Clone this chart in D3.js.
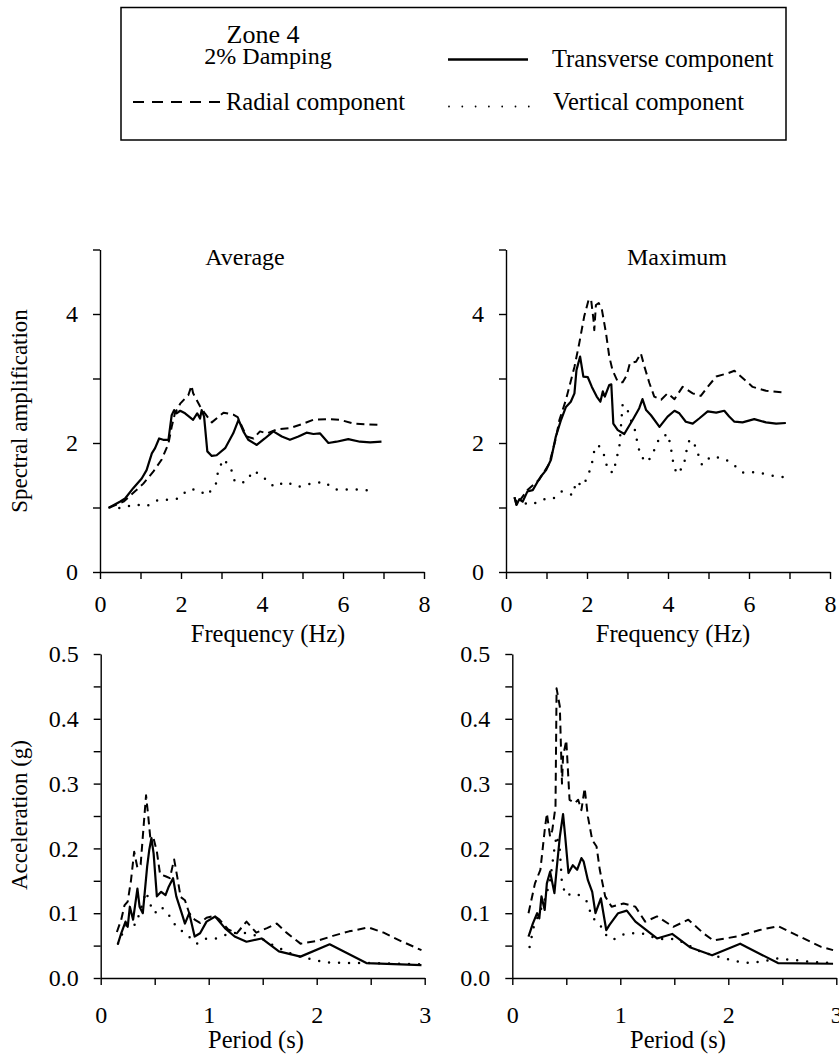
<!DOCTYPE html>
<html>
<head>
<meta charset="utf-8">
<script src="https://cdn.jsdelivr.net/npm/d3@7"></script>
<style>
  html, body { margin: 0; padding: 0; background: #fff; }
  svg { display: block; }
</style>
</head>
<body>
<svg id="chart" width="839" height="1055" style="font-family: 'Liberation Serif', serif"></svg>
<script>
// ---------- data ----------
const freqTicks = [0, 1, 2, 3, 4, 5, 6, 7, 8];
const freqTickLabels = [0, 2, 4, 6, 8];
const ampTicks = [0, 1, 2, 3, 4, 5];
const ampTickLabels = [0, 2, 4];
const periodTicks = [0, 0.5, 1, 1.5, 2, 2.5, 3];
const periodTickLabels = [0, 1, 2, 3];
const accTicks = [0, 0.05, 0.1, 0.15, 0.2, 0.25, 0.3, 0.35, 0.4, 0.45, 0.5];
const accTickLabels = [0, 0.1, 0.2, 0.3, 0.4, 0.5];

const panelTitles = ["Average", "Maximum"];
const legendItems = ["Transverse component", "Radial component", "Vertical component"];

// Average spectral amplification [frequency Hz, amplification]
const avgTransverse = [[0.23,1.0],[0.49,1.09],[0.62,1.14],[0.82,1.30],[1.03,1.45],[1.15,1.58],[1.28,1.84],[1.36,1.92],[1.46,2.07],[1.56,2.05],[1.69,2.05],[1.77,2.43],[1.83,2.51],[1.89,2.46],[1.98,2.50],[2.1,2.46],[2.3,2.36],[2.4,2.46],[2.47,2.38],[2.51,2.51],[2.57,2.41],[2.65,1.87],[2.76,1.80],[2.88,1.81],[3.09,1.92],[3.29,2.15],[3.42,2.36],[3.54,2.18],[3.66,2.05],[3.87,1.97],[4.07,2.07],[4.28,2.18],[4.49,2.10],[4.69,2.05],[4.9,2.1],[5.1,2.16],[5.27,2.14],[5.43,2.15],[5.64,2.0],[5.84,2.02],[6.13,2.06],[6.42,2.02],[6.67,2.01],[6.95,2.02]];
const avgRadial = [[0.23,1.0],[0.58,1.09],[0.9,1.27],[1.07,1.37],[1.32,1.56],[1.52,1.74],[1.69,1.99],[1.77,2.25],[1.85,2.46],[1.98,2.61],[2.1,2.69],[2.18,2.74],[2.26,2.89],[2.3,2.77],[2.47,2.57],[2.6,2.45],[2.76,2.32],[3.05,2.47],[3.29,2.44],[3.4,2.4],[3.62,2.10],[3.79,2.07],[3.95,2.18],[4.12,2.15],[4.36,2.21],[4.69,2.23],[5.02,2.30],[5.27,2.36],[5.6,2.37],[5.93,2.36],[6.26,2.30],[6.58,2.29],[6.95,2.28]];
const avgVertical = [[0.23,1.0],[0.53,0.99],[0.86,1.05],[1.15,1.02],[1.44,1.12],[1.69,1.12],[1.93,1.14],[2.18,1.28],[2.39,1.28],[2.65,1.19],[2.86,1.36],[2.92,1.58],[3.05,1.75],[3.23,1.61],[3.33,1.4],[3.58,1.39],[3.8,1.57],[4.05,1.46],[4.3,1.32],[4.58,1.4],[4.9,1.32],[5.2,1.37],[5.53,1.4],[5.8,1.28],[6.13,1.28],[6.46,1.28],[6.79,1.25]];

// Maximum spectral amplification
const maxTransverse = [[0.21,1.16],[0.26,1.04],[0.33,1.13],[0.41,1.09],[0.53,1.25],[0.66,1.27],[0.78,1.40],[0.86,1.48],[0.99,1.58],[1.11,1.74],[1.23,2.10],[1.36,2.36],[1.48,2.56],[1.6,2.64],[1.69,2.77],[1.74,3.13],[1.83,3.34],[1.91,3.03],[2.02,3.02],[2.12,2.87],[2.24,2.72],[2.33,2.64],[2.39,2.80],[2.44,2.72],[2.55,2.9],[2.6,2.91],[2.65,2.3],[2.76,2.2],[2.92,2.14],[3.13,2.36],[3.29,2.54],[3.37,2.68],[3.46,2.51],[3.58,2.43],[3.79,2.25],[3.99,2.41],[4.16,2.50],[4.28,2.46],[4.44,2.33],[4.61,2.3],[4.77,2.38],[4.98,2.49],[5.19,2.47],[5.39,2.5],[5.51,2.41],[5.64,2.33],[5.84,2.32],[6.13,2.37],[6.42,2.32],[6.67,2.30],[6.91,2.31]];
const maxRadial = [[0.21,1.16],[0.26,1.04],[0.53,1.27],[0.82,1.43],[1.07,1.68],[1.23,2.07],[1.32,2.36],[1.48,2.67],[1.69,3.18],[1.81,3.55],[1.93,3.96],[2.04,4.22],[2.1,4.23],[2.16,3.91],[2.18,3.75],[2.22,4.14],[2.29,4.17],[2.37,4.06],[2.47,3.70],[2.55,3.34],[2.63,3.13],[2.76,2.95],[2.88,2.94],[2.98,3.05],[3.06,3.24],[3.21,3.26],[3.33,3.39],[3.42,3.18],[3.54,2.93],[3.66,2.72],[3.83,2.67],[3.99,2.77],[4.16,2.68],[4.36,2.87],[4.61,2.77],[4.81,2.73],[4.98,2.87],[5.19,3.03],[5.47,3.08],[5.64,3.12],[5.8,3.03],[6.09,2.87],[6.42,2.81],[6.91,2.78]];
const maxVertical = [[0.25,1.1],[0.62,1.04],[0.95,1.13],[1.15,1.13],[1.38,1.25],[1.65,1.19],[1.73,1.40],[1.89,1.33],[2.02,1.48],[2.12,1.68],[2.18,1.88],[2.28,1.97],[2.44,1.79],[2.51,1.58],[2.65,1.54],[2.73,1.76],[2.8,1.95],[2.88,2.6],[2.98,2.55],[3.1,2.33],[3.19,2.19],[3.25,1.98],[3.33,1.79],[3.5,1.70],[3.66,1.89],[3.79,2.08],[4.0,2.14],[4.07,1.93],[4.12,1.73],[4.21,1.52],[4.39,1.64],[4.44,1.84],[4.53,2.05],[4.63,2.02],[4.84,1.66],[5.06,1.79],[5.39,1.76],[5.64,1.65],[5.86,1.54],[6.19,1.55],[6.5,1.50],[6.87,1.47]];

// Average acceleration [period s, acceleration g]
const avgAccRadial = [[0.15,0.071],[0.19,0.09],[0.22,0.112],[0.25,0.118],[0.28,0.15],[0.31,0.195],[0.34,0.17],[0.37,0.175],[0.40,0.24],[0.42,0.282],[0.44,0.25],[0.46,0.215],[0.49,0.215],[0.52,0.195],[0.55,0.16],[0.60,0.157],[0.64,0.154],[0.68,0.183],[0.71,0.155],[0.74,0.125],[0.78,0.12],[0.82,0.10],[0.87,0.09],[0.92,0.085],[0.98,0.093],[1.05,0.096],[1.1,0.09],[1.18,0.075],[1.26,0.069],[1.35,0.087],[1.44,0.07],[1.54,0.077],[1.63,0.084],[1.72,0.07],[1.85,0.053],[2.0,0.057],[2.15,0.065],[2.3,0.072],[2.48,0.078],[2.62,0.07],[2.78,0.057],[2.97,0.043]];
const avgAccTransverse = [[0.16,0.053],[0.19,0.069],[0.23,0.087],[0.25,0.079],[0.27,0.11],[0.30,0.09],[0.34,0.138],[0.36,0.11],[0.39,0.10],[0.43,0.172],[0.45,0.198],[0.47,0.216],[0.49,0.192],[0.52,0.126],[0.56,0.133],[0.6,0.128],[0.63,0.141],[0.67,0.154],[0.70,0.126],[0.75,0.10],[0.78,0.084],[0.82,0.10],[0.87,0.064],[0.92,0.069],[0.98,0.087],[1.06,0.095],[1.15,0.077],[1.24,0.064],[1.35,0.056],[1.49,0.061],[1.65,0.041],[1.85,0.033],[2.12,0.052],[2.46,0.023],[2.97,0.02]];
const avgAccVertical = [[0.16,0.053],[0.21,0.072],[0.25,0.085],[0.32,0.082],[0.36,0.10],[0.42,0.133],[0.46,0.113],[0.5,0.10],[0.56,0.11],[0.64,0.095],[0.7,0.079],[0.78,0.069],[0.89,0.053],[0.98,0.061],[1.07,0.061],[1.2,0.069],[1.32,0.07],[1.45,0.065],[1.6,0.05],[1.8,0.035],[1.97,0.028],[2.1,0.024],[2.3,0.023],[2.5,0.023],[2.97,0.021]];

// Maximum acceleration
const maxAccRadial = [[0.15,0.10],[0.21,0.146],[0.26,0.167],[0.30,0.228],[0.32,0.254],[0.35,0.218],[0.37,0.228],[0.40,0.264],[0.41,0.447],[0.44,0.419],[0.46,0.30],[0.47,0.342],[0.50,0.367],[0.53,0.275],[0.58,0.27],[0.61,0.275],[0.64,0.259],[0.67,0.293],[0.70,0.249],[0.74,0.213],[0.78,0.203],[0.81,0.167],[0.86,0.126],[0.92,0.11],[1.03,0.115],[1.14,0.11],[1.23,0.087],[1.34,0.095],[1.49,0.079],[1.63,0.09],[1.77,0.069],[1.86,0.058],[2.08,0.064],[2.29,0.074],[2.46,0.08],[2.66,0.064],[2.86,0.048],[2.97,0.043]];
const maxAccTransverse = [[0.15,0.064],[0.19,0.084],[0.23,0.10],[0.25,0.092],[0.27,0.126],[0.30,0.105],[0.32,0.146],[0.35,0.164],[0.39,0.131],[0.41,0.167],[0.44,0.218],[0.47,0.253],[0.49,0.218],[0.52,0.162],[0.56,0.174],[0.60,0.167],[0.64,0.185],[0.66,0.18],[0.70,0.151],[0.74,0.133],[0.77,0.10],[0.82,0.123],[0.87,0.074],[0.90,0.082],[0.98,0.10],[1.06,0.104],[1.14,0.087],[1.34,0.061],[1.48,0.068],[1.65,0.047],[1.85,0.035],[2.11,0.053],[2.46,0.023],[2.97,0.022]];
const maxAccVertical = [[0.16,0.048],[0.2,0.08],[0.25,0.1],[0.3,0.12],[0.35,0.15],[0.39,0.20],[0.41,0.22],[0.44,0.198],[0.46,0.145],[0.50,0.127],[0.55,0.13],[0.60,0.13],[0.69,0.118],[0.74,0.093],[0.80,0.085],[0.87,0.066],[0.93,0.059],[1.05,0.069],[1.2,0.069],[1.35,0.06],[1.52,0.06],[1.75,0.04],[1.97,0.03],[2.1,0.025],[2.2,0.023],[2.33,0.026],[2.45,0.03],[2.6,0.028],[2.75,0.025],[2.95,0.023]];

// ---------- drawing ----------
const FONT = '"Liberation Serif", serif';
const svg = d3.select("#chart");
svg.append("rect").attr("width", 839).attr("height", 1055).attr("fill", "#fff");

function txt(sel, size) {
  sel.attr("font-family", null).attr("font-size", size).attr("fill", "#000");
  sel.style("font-family", FONT);
  return sel;
}

const styles = {
  transverse: { width: 2.2, dash: null, cap: "butt" },
  radial: { width: 2.0, dash: "8,5", cap: "butt" },
  vertical: { width: 2.5, dash: "0,10", cap: "round" }
};

function panel(cfg) {
  const x = d3.scaleLinear().domain(cfg.xDomain).range([cfg.left, cfg.right]);
  const y = d3.scaleLinear().domain(cfg.yDomain).range([cfg.bottom, cfg.top]);
  const g = svg.append("g");

  const xAxis = d3.axisBottom(x).tickValues(cfg.xTicks).tickSize(7).tickSizeOuter(0)
    .tickPadding(cfg.xPad)
    .tickFormat(d => cfg.xLabels.some(v => Math.abs(v - d) < 1e-9) ? d3.format("d")(d) : "");
  const yAxis = d3.axisLeft(y).tickValues(cfg.yTicks).tickSize(7).tickSizeOuter(0)
    .tickPadding(15)
    .tickFormat(d => cfg.yLabels.some(v => Math.abs(v - d) < 1e-9) ? cfg.yFmt(d) : "");

  const gx = g.append("g").attr("transform", `translate(0,${cfg.bottom})`).call(xAxis);
  const gy = g.append("g").attr("transform", `translate(${cfg.left},0)`).call(yAxis);
  [gx, gy].forEach(a => {
    a.attr("font-family", null).attr("font-size", null);
    a.selectAll("path,line").attr("stroke", "#000").attr("stroke-width", 1.4);
    txt(a.selectAll("text"), 24);
  });

  const line = d3.line().x(d => x(d[0])).y(d => y(d[1]));
  cfg.series.forEach(s => {
    const st = styles[s.kind];
    g.append("path").datum(s.data).attr("d", line)
      .attr("fill", "none").attr("stroke", "#000")
      .attr("stroke-width", st.width)
      .attr("stroke-linejoin", "round")
      .attr("stroke-linecap", st.cap)
      .attr("stroke-dasharray", st.dash);
  });

  if (cfg.title) {
    txt(g.append("text").attr("x", cfg.titleX).attr("y", 265).attr("text-anchor", "middle"), 24).text(cfg.title);
  }
  txt(g.append("text").attr("x", cfg.xTitleX).attr("y", cfg.xTitleY).attr("text-anchor", "middle"), 24.5).text(cfg.xTitle);
}

const fmtInt = d3.format("d");
const fmt1 = d3.format(".1f");

panel({ xDomain: [0, 8], yDomain: [0, 5], left: 100, right: 424, top: 249.5, bottom: 572,
  xTicks: freqTicks, xLabels: freqTickLabels, yTicks: ampTicks, yLabels: ampTickLabels, yFmt: fmtInt, xPad: 16,
  series: [{ kind: "transverse", data: avgTransverse }, { kind: "radial", data: avgRadial }, { kind: "vertical", data: avgVertical }],
  title: panelTitles[0], titleX: 245, xTitle: "Frequency (Hz)", xTitleX: 268, xTitleY: 642 });

panel({ xDomain: [0, 8], yDomain: [0, 5], left: 506, right: 830, top: 249.5, bottom: 572,
  xTicks: freqTicks, xLabels: freqTickLabels, yTicks: ampTicks, yLabels: ampTickLabels, yFmt: fmtInt, xPad: 16,
  series: [{ kind: "transverse", data: maxTransverse }, { kind: "radial", data: maxRadial }, { kind: "vertical", data: maxVertical }],
  title: panelTitles[1], titleX: 677, xTitle: "Frequency (Hz)", xTitleX: 673, xTitleY: 642 });

panel({ xDomain: [0, 3], yDomain: [0, 0.5], left: 100.7, right: 424.7, top: 654, bottom: 978,
  xTicks: periodTicks, xLabels: periodTickLabels, yTicks: accTicks, yLabels: accTickLabels, yFmt: fmt1, xPad: 21,
  series: [{ kind: "transverse", data: avgAccTransverse }, { kind: "radial", data: avgAccRadial }, { kind: "vertical", data: avgAccVertical }],
  xTitle: "Period (s)", xTitleX: 256, xTitleY: 1048 });

panel({ xDomain: [0, 3], yDomain: [0, 0.5], left: 512.3, right: 836.3, top: 654, bottom: 978,
  xTicks: periodTicks, xLabels: periodTickLabels, yTicks: accTicks, yLabels: accTickLabels, yFmt: fmt1, xPad: 21,
  series: [{ kind: "transverse", data: maxAccTransverse }, { kind: "radial", data: maxAccRadial }, { kind: "vertical", data: maxAccVertical }],
  xTitle: "Period (s)", xTitleX: 678, xTitleY: 1048 });

// y-axis titles
txt(svg.append("text").attr("transform", "translate(27,411) rotate(-90)").attr("text-anchor", "middle"), 23)
  .text("Spectral amplification");
txt(svg.append("text").attr("transform", "translate(27,815) rotate(-90)").attr("text-anchor", "middle"), 23)
  .text("Acceleration (g)");

// legend
const lg = svg.append("g");
lg.append("rect").attr("x", 121).attr("y", 7.5).attr("width", 665).attr("height", 132.5)
  .attr("fill", "none").attr("stroke", "#000").attr("stroke-width", 1.5);
txt(lg.append("text").attr("x", 263).attr("y", 43).attr("text-anchor", "middle"), 26).text("Zone 4");
txt(lg.append("text").attr("x", 268).attr("y", 63.5).attr("text-anchor", "middle"), 24).text("2% Damping");
lg.append("line").attr("x1", 448).attr("x2", 528).attr("y1", 59.5).attr("y2", 59.5)
  .attr("stroke", "#000").attr("stroke-width", 2.5);
txt(lg.append("text").attr("x", 552).attr("y", 67), 24.5).text(legendItems[0]);
lg.append("line").attr("x1", 133).attr("x2", 220).attr("y1", 102).attr("y2", 102)
  .attr("stroke", "#000").attr("stroke-width", 2).attr("stroke-dasharray", "11,8");
txt(lg.append("text").attr("x", 226).attr("y", 110), 24.5).text(legendItems[1]);
lg.append("line").attr("x1", 449).attr("x2", 530).attr("y1", 106.5).attr("y2", 106.5)
  .attr("stroke", "#000").attr("stroke-width", 1.8).attr("stroke-linecap", "round").attr("stroke-dasharray", "0,13.3");
txt(lg.append("text").attr("x", 553).attr("y", 110), 24.5).text(legendItems[2]);
</script>
</body>
</html>
